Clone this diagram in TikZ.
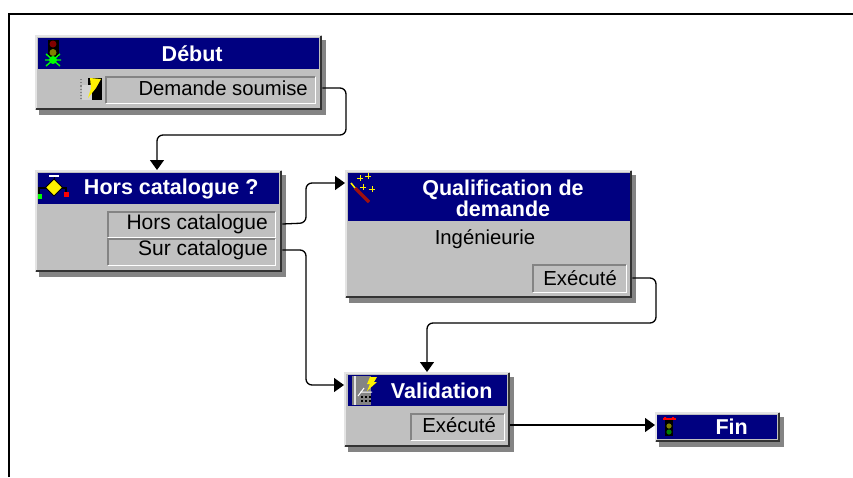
\documentclass[tikz,border=0pt]{standalone}
\usepackage{fontspec}
\setmainfont{Liberation Sans}
\usetikzlibrary{shadows,arrows.meta}
\definecolor{bar}{HTML}{000080}
\definecolor{body}{HTML}{C0C0C0}
\definecolor{greyc}{HTML}{848484}
\definecolor{pale}{HTML}{E4E4E4}
\definecolor{olivec}{HTML}{808000}
\definecolor{darkr}{HTML}{800000}
\definecolor{wandc}{HTML}{A01010}
\tikzset{
 panel/.style={anchor=north west,inner sep=0pt,fill=body,
   drop shadow={shadow xshift=4pt,shadow yshift=-5pt,fill=greyc,opacity=1}},
 titlebar/.style={anchor=north west,inner sep=0pt,fill=bar,text=white,align=center,
   font=\fontsize{21.5}{24}\selectfont\bfseries},
 port/.style={anchor=north west,inner sep=0pt,fill=body,text=black,align=right,
   font=\fontsize{20}{23}\selectfont},
 plain/.style={inner sep=0pt,text=black,font=\fontsize{20.3}{23}\selectfont},
 plainwide/.style={inner sep=0pt,text=black,font=\fontsize{21}{23}\selectfont},
 link/.style={draw=black,line width=1.3pt,rounded corners=6pt},
 arrowed/.style={link,-{Triangle[length=10pt,width=14pt]}},
}
\newcommand{\panelEdges}[1]{%
 \draw[pale,line width=1.8pt] ([xshift=1pt,yshift=1pt]#1.south west)--([xshift=1pt,yshift=-1pt]#1.north west)--([xshift=-1pt,yshift=-1pt]#1.north east);
 \draw[black!80,line width=2pt] ([xshift=1pt,yshift=1pt]#1.south west)--([xshift=-1pt,yshift=1pt]#1.south east)--([xshift=-1pt,yshift=-1pt]#1.north east);}
\newcommand{\portEdges}[1]{%
 \draw[greyc,line width=1.2pt] (#1.south west)--(#1.north west)--(#1.north east);
 \draw[white,line width=1.2pt] (#1.south west)--(#1.south east)--(#1.north east);}
\begin{document}
\begin{tikzpicture}[x=1pt,y=-1pt]
\useasboundingbox (0,0) rectangle (853,477);
\fill[white] (0,0) rectangle (853,477);
\draw[black,line width=1.3pt] (9,477)--(9,14)--(853,14);

% panels
\node[panel,minimum width=287pt,minimum height=75pt] (debut) at (35,35) {};
\node[panel,minimum width=247pt,minimum height=102pt] (hors) at (35,170) {};
\node[panel,minimum width=287pt,minimum height=128pt] (qualif) at (345,170) {};
\node[panel,minimum width=166pt,minimum height=75pt] (valid) at (344,372) {};
\node[panel,minimum width=125pt,minimum height=30pt] (fin) at (655,412) {};
\panelEdges{debut}\panelEdges{hors}\panelEdges{qualif}\panelEdges{valid}\panelEdges{fin}

% title bars
\node[titlebar,minimum width=281pt,minimum height=31pt] (tdebut) at (38,38) {\hspace*{27pt}Début};
\node[titlebar,minimum width=241pt,minimum height=31pt] (thors) at (38,173) {\hspace*{25pt}Hors catalogue ?};
\node[titlebar,minimum width=282pt,minimum height=48pt] (tqualif) at (348,173) {};
\node[inner sep=0pt,text=white,align=center,font=\fontsize{21.5}{21}\selectfont\bfseries] (lqualif) at (503,198.5) {Qualification de\\demande};
\node[titlebar,minimum width=159pt,minimum height=31pt] (tvalid) at (348,375) {\hspace*{28pt}Validation};
\node[titlebar,minimum width=120pt,minimum height=24pt] (tfin) at (657,415) {\hspace*{29pt}\raisebox{-1pt}{Fin}};

% ports
\node[port,minimum width=209pt,minimum height=26pt] (pdem) at (106,77) {};
\node[port,minimum width=167pt,minimum height=25pt] (phc) at (108,212) {};
\node[port,minimum width=167pt,minimum height=26pt] (psc) at (108,239) {};
\node[port,minimum width=93pt,minimum height=27pt] (pq) at (533,265) {};
\node[port,minimum width=93pt,minimum height=26pt] (pv) at (411,414) {};
\portEdges{pdem}\portEdges{phc}\portEdges{psc}\portEdges{pq}\portEdges{pv}
\node[plain,anchor=east] (ldem) at (308,88) {Demande soumise};
\node[plainwide,anchor=east] (lhc) at (268,224) {Hors catalogue};
\node[plainwide,anchor=east] (lsc) at (268,250) {Sur catalogue};
\node[plain,anchor=east] (lq) at (617,278) {Exécuté};
\node[plain,anchor=east] (lv) at (496,425) {Exécuté};
\node[plain] (ling) at (485,239) {Ingénieurie};

% connectors
\coordinate (a1) at (debut.east |- ldem);
\coordinate (a2) at (346,135);
\draw[arrowed] (a1) -- (346,88) -- (a2) -- (157,135) -- (hors.north -| 157,0);
\coordinate (b1) at (hors.east |- lhc);
\draw[arrowed] (b1) -- (306,223) -- (306,183) -- (qualif.west |- 0,183);
\coordinate (c1) at (hors.east |- lsc);
\draw[arrowed] (c1) -- (306,250) -- (306,385) -- (valid.west |- 0,385);
\coordinate (d1) at (qualif.east |- lq);
\draw[arrowed] (d1) -- (656,278) -- (656,323) -- (427,323) -- (valid.north -| 427,0);
\coordinate (e1) at (valid.east |- lv);
\draw[arrowed] (e1) -- (fin.west |- e1);

% icon: start light
\fill[black] (47.5,40)--(58.5,40)--(58.5,57)--(47.5,57)--cycle;
\fill[darkr] (53,44) circle (3.5);
\fill[olivec] (53,52.5) circle (3.5);
\draw[green,line width=1.4pt] (46,66)--(60,54) (46,54)--(60,66) (45,60)--(61,60);
\fill[green] (53,60) circle (4);
% icon: result
\fill[black] (88,78) rectangle (102,100);
\fill[body!70!white] (82,85) rectangle (92,100);
\draw[greyc,dotted,line width=1.2pt] (81,79)--(81,100);
\fill[yellow] (90,78)--(101,79)--(96,88)--(92,93)--(88,98)--(91,88)--cycle;
% icon: decision
\draw[black,line width=1.5pt] (39,196)--(39,188)--(66,188)--(66,194);
\fill[yellow,draw=black,line width=.8pt] (54,179)--(62.5,187.5)--(54,196)--(45.5,187.5)--cycle;
\fill[white] (49,174.5) rectangle (59,177);
\draw[black,line width=1pt] (54,177)--(54,179);
\fill[green] (38,194) rectangle (42,199);
\fill[red] (64,192) rectangle (69,197);
% icon: wand
\draw[wandc,line width=3.5pt] (355,188)--(369,202);
\draw[yellow,line width=1.5pt] (351,183)--(355,188);
\draw[yellow,line width=1pt] (360,175)--(360,181) (357,178)--(363,178) (368,173)--(368,179) (365,176)--(371,176) (372,186)--(372,192) (369,189)--(375,189) (363,184)--(363,190) (360,187)--(366,187);
% icon: validation
\fill[greyc] (352,376) rectangle (371,405);
\fill[pale] (354,376) rectangle (356,405);
\draw[white,line width=1pt] (360,392)--(372,392) (358,396)--(364,388);
\draw[black,dotted,line width=2pt] (361,397)--(372,397) (361,401)--(372,401);
\fill[yellow] (370,377)--(377,377)--(374,382)--(377,382)--(367,391)--(370,384)--(367,384)--cycle;
% icon: end light
\fill[black] (665,420) rectangle (673,436);
\draw[red,line width=1.5pt] (663,419)--(676,419);
\fill[red] (664,417) rectangle (666,418) (672,417) rectangle (674,418);
\fill[olivec] (669,426) circle (2.6);
\fill[green!50!black] (669,432) circle (2.6);
\end{tikzpicture}
\end{document}
